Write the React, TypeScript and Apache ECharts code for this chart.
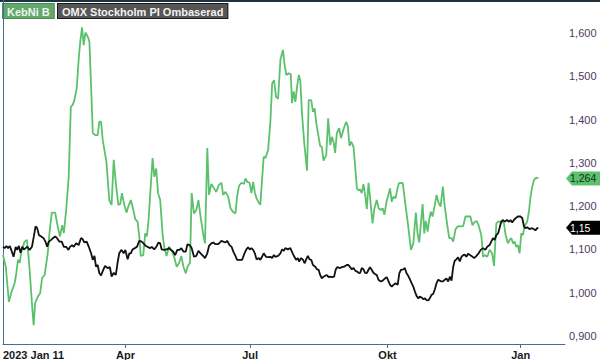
import React, { useEffect, useRef } from "react";
import * as echarts from "echarts";

const seriesNames = ["KebNi B", "OMX Stockholm PI Ombaserad"];
const tickDays = [0, 58, 117, 182, 245];
const tickLabels = ["2023 Jan 11", "Apr", "Jul", "Okt", "Jan"];
const yTicks = [0.9, 1.0, 1.1, 1.2, 1.3, 1.4, 1.5, 1.6];

// [trading day since 2023-01-11, value]
const kebni: [number, number][] = [
  [0,1.087],[1.3,1.060],[2.8,0.979],[3.9,1.000],[5.5,1.022],[6.3,1.045],[7.1,1.076],[7.9,1.069],[8.6,1.092],[9.4,1.106],
  [10.2,1.118],[11.3,1.122],[11.8,1.099],[12.6,1.053],[13.8,0.968],[14.5,0.925],[15.2,0.976],[16.5,0.991],[17.6,0.999],[18.5,1.034],
  [19.7,1.041],[21.2,1.092],[22.0,1.138],[23.1,1.185],[24.7,1.185],[25.9,1.153],[27.0,1.130],[28.0,1.156],[28.8,1.138],[29.9,1.191],
  [31.1,1.268],[32.1,1.430],[33.0,1.434],[33.8,1.445],[34.9,1.473],[35.8,1.538],[36.5,1.577],[37.4,1.613],[38.2,1.572],[39.0,1.601],
  [40.1,1.592],[40.9,1.580],[41.7,1.476],[42.5,1.369],[43.7,1.364],[44.8,1.364],[45.6,1.395],[46.4,1.395],[47.2,1.353],[48.0,1.330],
  [49.0,1.300],[50.3,1.214],[51.4,1.203],[52.4,1.307],[53.4,1.253],[54.6,1.203],[55.5,1.205],[56.3,1.230],[57.4,1.203],[58.5,1.185],
  [59.3,1.199],[60.5,1.214],[61.7,1.191],[62.6,1.170],[63.7,1.164],[64.5,1.130],[65.2,1.085],[66.4,1.087],[67.3,1.137],[68.1,1.130],
  [68.9,1.168],[69.7,1.230],[70.8,1.311],[71.6,1.268],[72.5,1.287],[73.4,1.230],[74.4,1.214],[75.5,1.137],[76.3,1.106],[77.4,1.085],
  [78.6,1.106],[79.7,1.099],[81.0,1.083],[82.2,1.060],[83.3,1.068],[84.4,1.085],[85.4,1.060],[86.5,1.045],[87.3,1.060],[88.5,1.069],
  [89.3,1.230],[90.4,1.183],[91.5,1.191],[92.5,1.214],[93.5,1.176],[94.7,1.137],[95.6,1.114],[96.7,1.334],[97.5,1.226],[98.6,1.251],
  [99.9,1.241],[100.9,1.233],[102.2,1.249],[103.4,1.254],[104.2,1.226],[105.3,1.233],[106.6,1.222],[107.7,1.195],[108.8,1.187],[110.0,1.183],
  [110.8,1.222],[111.7,1.247],[112.9,1.254],[114.0,1.251],[114.8,1.264],[115.6,1.256],[116.7,1.254],[117.6,1.230],[118.4,1.256],[119.2,1.231],
  [120.0,1.218],[121.1,1.208],[121.8,1.203],[122.6,1.260],[123.4,1.314],[124.2,1.311],[125.5,1.330],[126.6,1.399],[127.4,1.484],[128.3,1.491],
  [129.2,1.453],[130.2,1.448],[131.3,1.538],[132.5,1.561],[133.3,1.526],[134.1,1.503],[135.2,1.507],[136.2,1.505],[136.8,1.438],[137.6,1.465],
  [138.4,1.441],[139.2,1.476],[140.0,1.503],[140.7,1.491],[141.5,1.415],[142.6,1.345],[143.9,1.282],[144.7,1.445],[145.9,1.445],[146.7,1.418],
  [147.5,1.426],[148.3,1.391],[149.1,1.368],[150.1,1.339],[150.9,1.337],[151.7,1.305],[153.0,1.318],[153.9,1.403],[154.9,1.341],[155.7,1.360],
  [156.5,1.347],[157.2,1.323],[158.0,1.368],[159.1,1.380],[160.0,1.357],[161.2,1.378],[162.4,1.395],[163.2,1.385],[164.0,1.339],[164.8,1.349],
  [165.9,1.337],[166.7,1.291],[167.5,1.241],[168.3,1.236],[169.0,1.239],[169.8,1.230],[170.6,1.251],[171.4,1.226],[172.2,1.193],[173.0,1.254],
  [173.7,1.222],[174.9,1.160],[175.8,1.195],[176.9,1.214],[177.8,1.195],[178.8,1.191],[179.7,1.195],[180.5,1.180],[181.6,1.212],[182.6,1.230],
  [183.2,1.241],[184.0,1.210],[184.8,1.222],[185.8,1.218],[186.7,1.241],[187.4,1.253],[188.4,1.254],[189.2,1.253],[190.2,1.214],[191.8,1.153],
  [193.1,1.099],[194.2,1.114],[195.4,1.185],[196.2,1.137],[197.0,1.116],[197.8,1.160],[198.6,1.205],[199.4,1.137],[200.1,1.166],[201.0,1.141],
  [201.7,1.168],[202.5,1.187],[203.3,1.176],[204.4,1.203],[205.2,1.226],[206.0,1.210],[207.1,1.199],[208.2,1.245],[209.1,1.199],[210.2,1.159],
  [211.2,1.126],[212.3,1.126],[213.1,1.118],[214.2,1.147],[215.4,1.154],[216.7,1.153],[217.8,1.154],[218.9,1.176],[220.1,1.176],[221.2,1.176],
  [222.2,1.156],[223.0,1.162],[224.1,1.166],[225.1,1.156],[226.4,1.133],[227.2,1.083],[228.0,1.087],[229.2,1.083],[230.3,1.099],[231.5,1.091],
  [232.4,1.062],[233.5,1.160],[234.3,1.164],[235.0,1.164],[236.2,1.164],[237.1,1.160],[237.9,1.133],[239.0,1.114],[239.8,1.122],[240.6,1.126],
  [241.4,1.114],[242.1,1.118],[242.9,1.106],[243.7,1.110],[244.5,1.091],[245.3,1.137],[246.1,1.133],[246.8,1.153],[248.1,1.164],[248.9,1.187],
  [249.7,1.222],[250.5,1.245],[251.3,1.260],[252.4,1.266],[253.4,1.264]
];

const omx: [number, number][] = [
  [0,1.106],[0.8,1.103],[1.6,1.108],[2.4,1.103],[3.2,1.108],[3.9,1.099],[5.0,1.083],[6.0,1.106],[6.7,1.099],[7.5,1.108],
  [8.3,1.092],[9.1,1.106],[9.9,1.100],[10.7,1.103],[11.5,1.106],[12.6,1.099],[13.7,1.106],[14.6,1.130],[15.4,1.153],[16.2,1.149],
  [17.0,1.133],[18.1,1.130],[19.2,1.126],[20.1,1.118],[20.9,1.106],[21.7,1.118],[22.8,1.122],[23.6,1.126],[24.7,1.130],[25.6,1.126],
  [26.7,1.118],[27.8,1.118],[28.8,1.106],[29.9,1.106],[31.0,1.099],[31.7,1.106],[32.7,1.110],[33.5,1.106],[34.6,1.114],[35.8,1.110],
  [36.9,1.126],[37.7,1.124],[38.5,1.116],[39.6,1.118],[40.6,1.106],[41.7,1.091],[42.5,1.076],[43.3,1.085],[44.0,1.060],[44.8,1.064],
  [45.6,1.045],[46.4,1.040],[47.2,1.050],[48.3,1.062],[49.5,1.057],[50.6,1.059],[51.4,1.037],[52.4,1.046],[53.4,1.041],[54.2,1.068],
  [55.0,1.091],[56.1,1.099],[57.1,1.091],[57.9,1.099],[59.0,1.077],[59.8,1.091],[60.5,1.091],[61.3,1.100],[62.4,1.103],[63.4,1.106],
  [64.5,1.120],[65.6,1.118],[66.5,1.114],[67.6,1.108],[68.4,1.106],[69.7,1.103],[70.4,1.106],[71.6,1.100],[72.8,1.108],[73.6,1.116],
  [74.4,1.114],[75.1,1.100],[76.3,1.099],[77.5,1.100],[78.6,1.103],[79.4,1.099],[80.5,1.095],[81.5,1.087],[82.5,1.099],[83.6,1.099],
  [84.4,1.103],[85.4,1.095],[86.5,1.095],[87.3,1.112],[88.3,1.110],[89.3,1.103],[90.4,1.083],[91.5,1.085],[92.5,1.097],[93.5,1.091],
  [94.7,1.085],[95.6,1.080],[96.7,1.091],[97.5,1.108],[98.6,1.114],[99.5,1.116],[100.6,1.112],[101.9,1.112],[102.7,1.116],[103.4,1.120],
  [104.2,1.118],[105.3,1.116],[106.1,1.120],[107.2,1.110],[108.2,1.106],[109.0,1.095],[110.0,1.085],[110.8,1.076],[111.9,1.076],[113.2,1.076],
  [114.3,1.091],[115.2,1.100],[116.0,1.105],[116.8,1.100],[117.6,1.103],[118.4,1.099],[119.2,1.091],[120.0,1.077],[121.1,1.080],[121.8,1.076],
  [122.6,1.083],[123.4,1.091],[124.5,1.083],[125.5,1.082],[126.6,1.083],[127.4,1.080],[128.2,1.087],[128.9,1.083],[130.2,1.085],[131.3,1.091],
  [132.1,1.100],[132.9,1.097],[133.6,1.103],[134.8,1.100],[136.0,1.103],[137.1,1.091],[137.9,1.083],[138.7,1.076],[139.5,1.080],[140.2,1.072],
  [141.0,1.080],[142.0,1.076],[142.8,1.068],[143.5,1.077],[144.3,1.085],[145.1,1.077],[145.9,1.076],[146.7,1.064],[147.8,1.060],[148.6,1.054],
  [149.4,1.053],[150.1,1.041],[150.9,1.033],[151.7,1.037],[152.5,1.039],[153.3,1.041],[154.1,1.036],[154.9,1.037],[155.7,1.036],[156.7,1.037],
  [157.5,1.054],[158.3,1.059],[159.6,1.057],[160.4,1.059],[161.5,1.060],[162.7,1.064],[163.5,1.064],[164.3,1.059],[165.1,1.054],[165.9,1.057],
  [166.7,1.051],[167.5,1.049],[168.3,1.046],[169.0,1.045],[169.8,1.057],[170.6,1.054],[171.4,1.046],[172.2,1.045],[173.0,1.053],[173.7,1.059],
  [174.5,1.053],[175.3,1.046],[176.1,1.043],[176.9,1.041],[177.7,1.030],[178.8,1.026],[179.7,1.028],[180.8,1.033],[181.6,1.036],[182.1,1.031],
  [183.2,1.018],[184.0,1.014],[184.8,1.018],[185.8,1.022],[186.8,1.018],[187.6,1.045],[188.4,1.053],[189.5,1.054],[190.2,1.057],[191.0,1.045],
  [191.8,1.039],[192.6,1.031],[193.4,1.022],[194.2,1.014],[195.0,1.002],[195.8,0.992],[196.6,0.987],[197.3,0.991],[198.1,0.989],[198.9,0.985],
  [199.7,0.987],[200.5,0.983],[201.3,0.982],[202.0,0.987],[202.8,0.995],[203.6,0.997],[204.4,1.008],[205.2,1.022],[206.0,1.030],[206.7,1.028],
  [207.5,1.026],[208.3,1.026],[209.1,1.030],[209.9,1.033],[210.7,1.026],[211.5,1.037],[212.3,1.028],[213.1,1.060],[213.8,1.074],[214.6,1.077],
  [215.4,1.082],[216.2,1.072],[217.0,1.083],[217.8,1.087],[218.5,1.088],[219.3,1.083],[220.1,1.090],[221.7,1.085],[223.0,1.080],[224.1,1.085],
  [225.1,1.091],[226.1,1.099],[227.2,1.103],[228.3,1.099],[229.2,1.106],[230.3,1.110],[231.1,1.118],[231.9,1.126],[232.7,1.122],[233.5,1.133],
  [234.3,1.137],[235.0,1.149],[235.8,1.164],[236.7,1.168],[237.4,1.164],[238.5,1.168],[239.5,1.164],[240.2,1.168],[241.0,1.162],[241.8,1.168],
  [242.6,1.172],[243.7,1.176],[245.0,1.176],[245.8,1.172],[246.6,1.153],[247.3,1.149],[248.1,1.151],[249.2,1.147],[250.3,1.149],[251.3,1.147],
  [252.0,1.144],[252.8,1.149],[253.4,1.150]
];

const GREEN = "#5cc16d";
const BLACK = "#111111";
const AXIS = "#3f7391";
const FONT = "Liberation Sans, Arial, sans-serif";

export default function App() {
  const ref = useRef<HTMLDivElement>(null);
  useEffect(() => {
    document.body.style.margin = "0";
    const chart = echarts.init(ref.current!, undefined, { renderer: "svg" });
    chart.setOption({
      animation: false,
      grid: { left: 0, right: 35, top: 0, bottom: 16, containLabel: false },
      xAxis: {
        type: "value",
        min: 0,
        max: 266,
        splitLine: { show: false },
        axisLine: { show: true, lineStyle: { color: AXIS, width: 1 } },
        axisTick: {
          show: true,
          customValues: tickDays.slice(1),
          length: 4,
          lineStyle: { color: AXIS },
        },
        axisLabel: {
          customValues: tickDays,
          alignMinLabel: "left",
          margin: 5,
          color: "#1a1a1a",
          fontWeight: "bold",
          fontSize: 11,
          fontFamily: FONT,
          formatter: (v: number) => {
            const i = tickDays.indexOf(v);
            return i >= 0 ? tickLabels[i] : "";
          },
        },
      },
      yAxis: {
        type: "value",
        position: "right",
        min: 0.8815,
        max: 1.6762,
        splitLine: { show: false },
        axisLine: { show: true, lineStyle: { color: AXIS, width: 1 } },
        axisTick: { show: false },
        axisLabel: {
          customValues: yTicks,
          margin: 4,
          color: "#4a3b62",
          fontSize: 11,
          fontFamily: FONT,
          formatter: (v: number) => v.toFixed(3).replace(".", ","),
        },
      },
      series: [
        {
          name: seriesNames[0],
          type: "line",
          data: kebni,
          showSymbol: false,
          lineStyle: { color: GREEN, width: 1.8 },
          itemStyle: { color: GREEN },
          z: 2,
        },
        {
          name: seriesNames[1],
          type: "line",
          data: omx,
          showSymbol: false,
          lineStyle: { color: BLACK, width: 1.8 },
          itemStyle: { color: BLACK },
          z: 3,
        },
      ],
    });

    const lastK = kebni[kebni.length - 1][1];
    const lastO = omx[omx.length - 1][1];
    const xAxisPx = chart.convertToPixel({ xAxisIndex: 0 }, 266) as number;
    const tag = (value: number, fill: string, textColor: string) => {
      const y = chart.convertToPixel({ yAxisIndex: 0 }, value) as number;
      const x0 = xAxisPx + 1;
      return {
        type: "group",
        children: [
          {
            type: "polygon",
            shape: {
              points: [
                [x0, y],
                [x0 + 6, y - 7],
                [600, y - 7],
                [600, y + 7],
                [x0 + 6, y + 7],
              ],
            },
            style: { fill },
          },
          {
            type: "text",
            x: x0 + 4,
            y,
            style: {
              text: String(value).replace(".", ","),
              fill: textColor,
              font: `10.5px ${FONT}`,
              verticalAlign: "middle",
            },
          },
        ],
      };
    };

    chart.setOption({
      graphic: [
        { type: "rect", shape: { x: 0, y: 0, width: 600, height: 2 }, style: { fill: "#1d3440" } },
        {
          type: "text",
          x: 3,
          y: 4,
          style: {
            text: seriesNames[0],
            font: `bold 11px ${FONT}`,
            fill: "#eef5ee",
            backgroundColor: "#62a86c",
            borderColor: "#4d8a57",
            borderWidth: 1,
            padding: [2, 4, 1, 4],
          },
        },
        {
          type: "text",
          x: 58,
          y: 4,
          style: {
            text: seriesNames[1],
            font: `bold 11px ${FONT}`,
            fill: "#f2f2f2",
            backgroundColor: "#555555",
            borderColor: "#1a1a1a",
            borderWidth: 1,
            padding: [2, 4, 1, 4],
          },
        },
        tag(lastK, GREEN, "#10301a"),
        tag(lastO, "#000000", "#ffffff"),
      ],
    });

    return () => chart.dispose();
  }, []);
  return <div ref={ref} style={{ width: 600, height: 360 }} />;
}
